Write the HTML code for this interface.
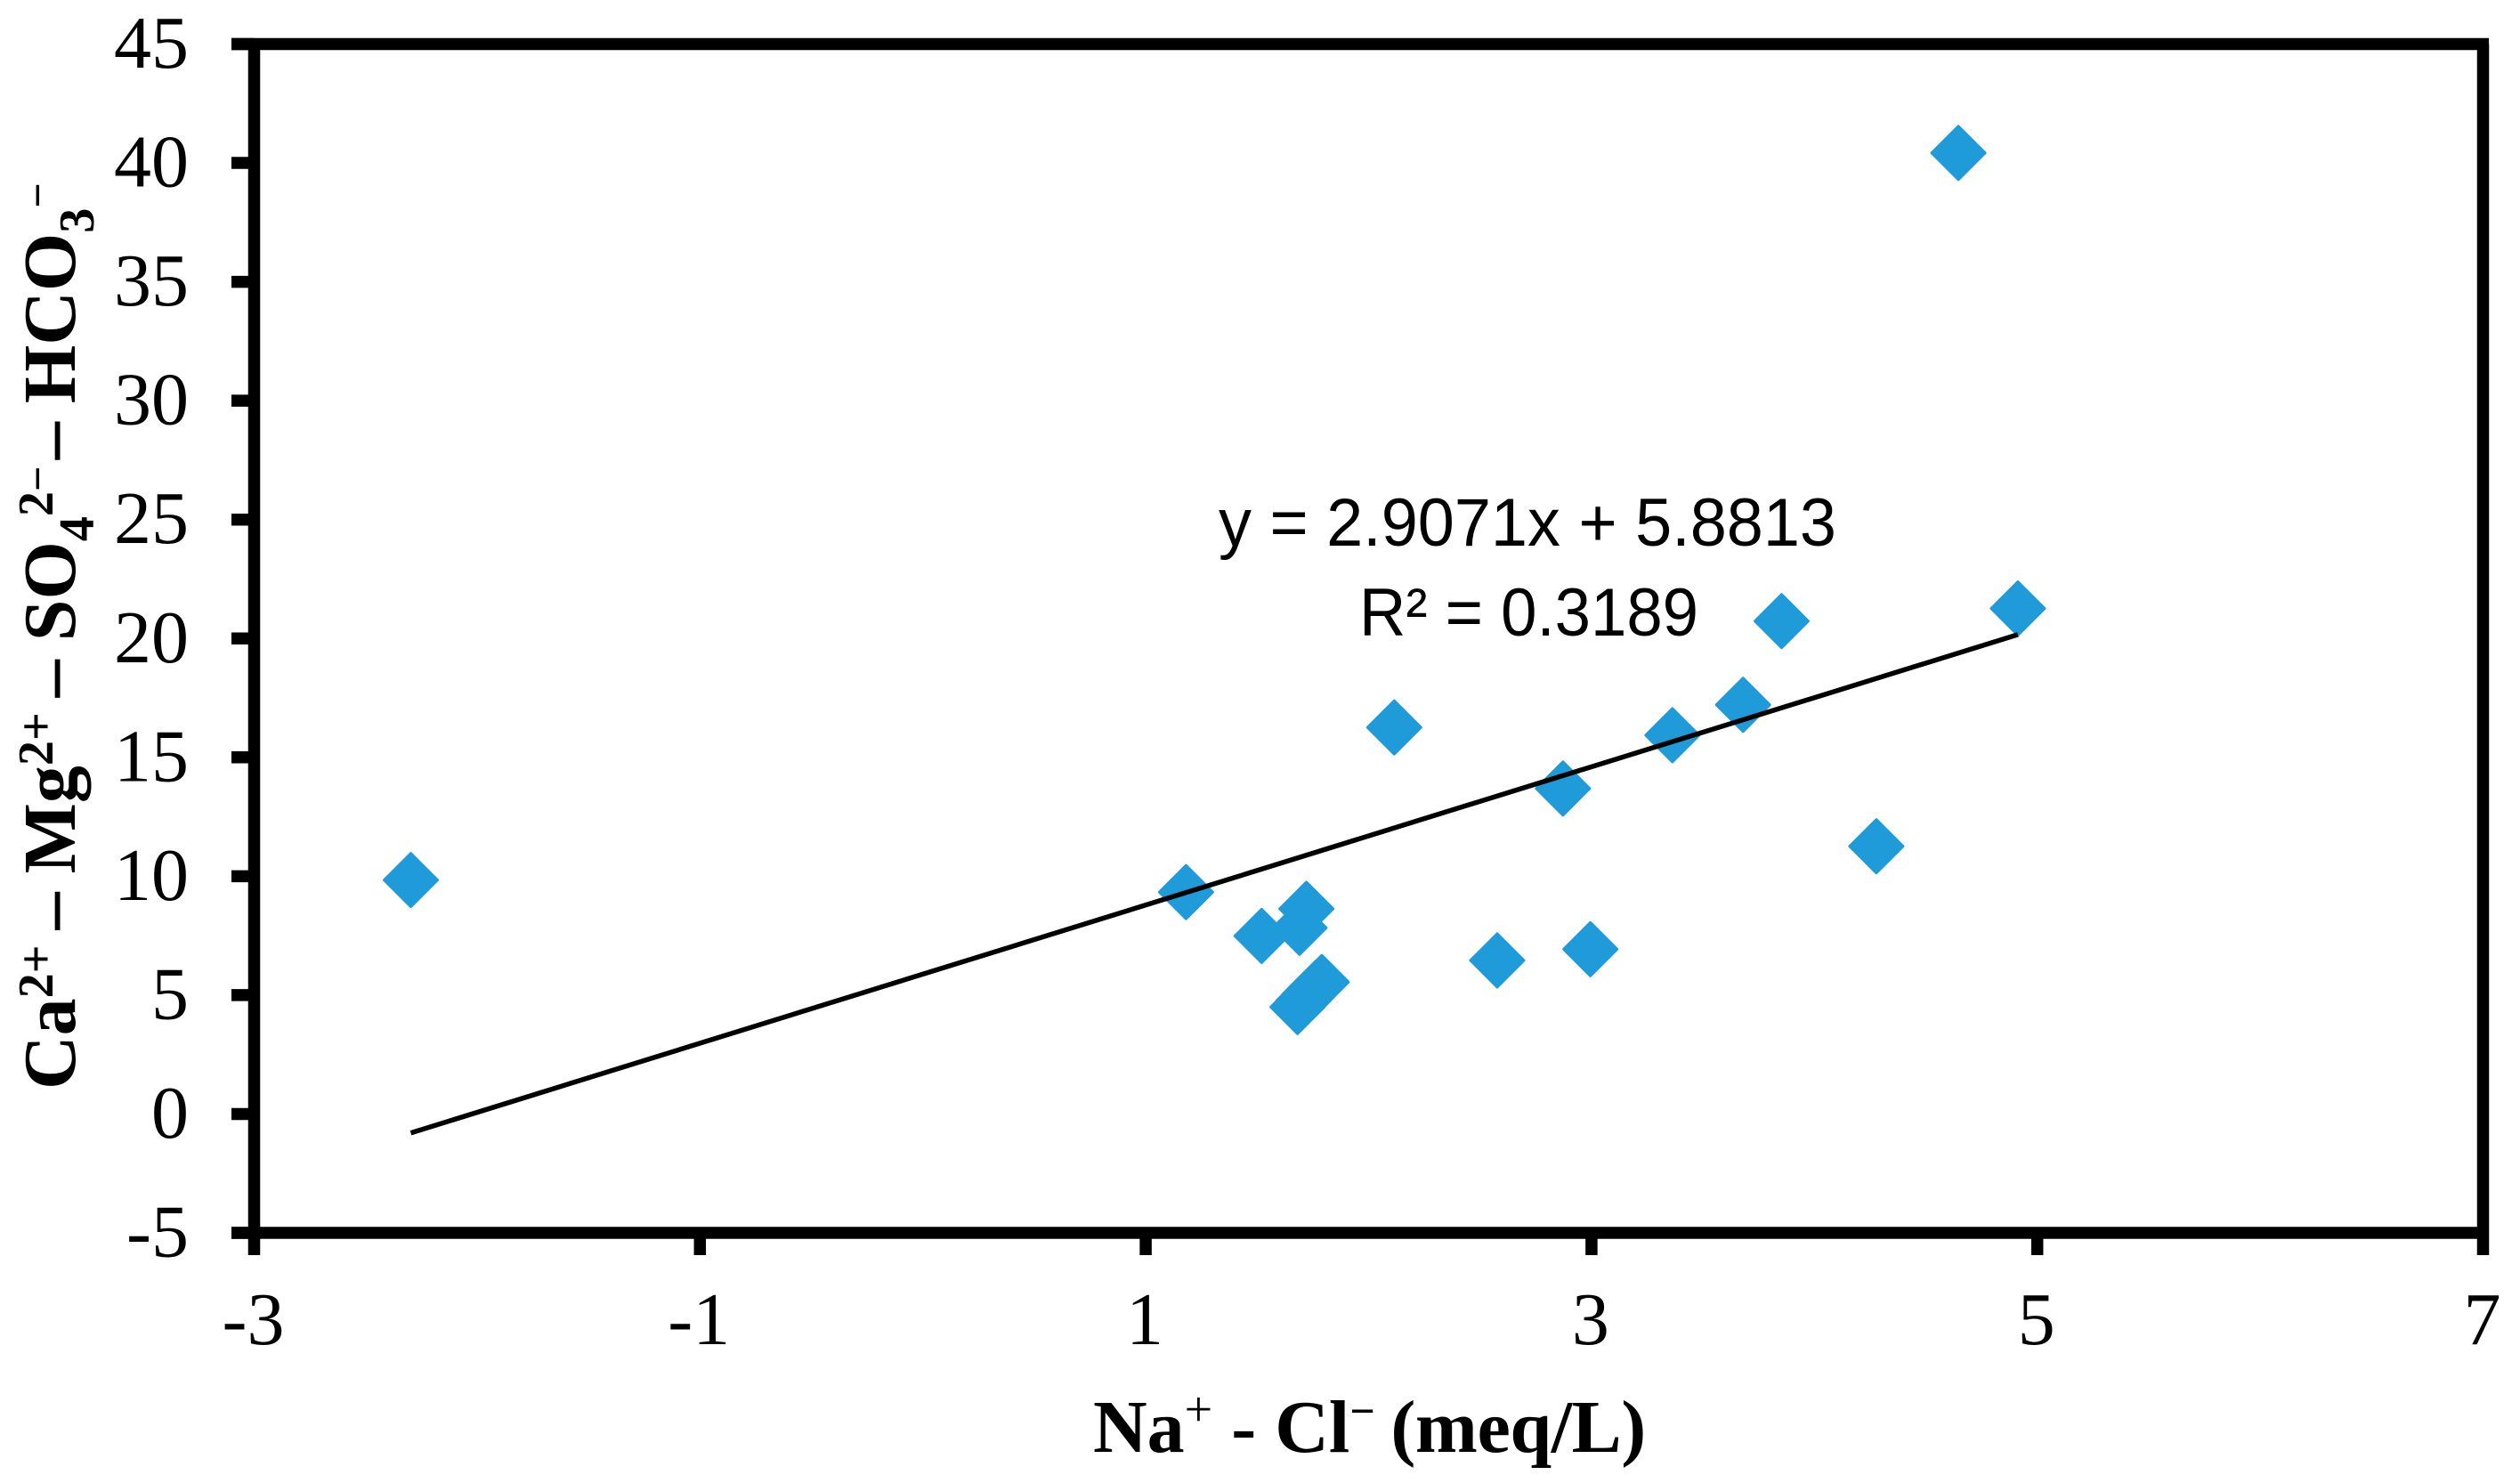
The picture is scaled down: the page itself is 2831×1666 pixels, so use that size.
<!DOCTYPE html>
<html lang="en">
<head>
<meta charset="utf-8">
<title>Scatter chart</title>
<style>
html,body{margin:0;padding:0;background:#fff;}
svg{display:block;}
.tick{font-family:"Liberation Serif",serif;font-size:84px;fill:#000;}
.title{font-family:"Liberation Serif",serif;font-size:84px;font-weight:bold;fill:#000;}
.eq{font-family:"Liberation Sans Narrow","Liberation Sans",sans-serif;font-size:76px;fill:#000;}
</style>
</head>
<body>
<svg id="chart" xmlns="http://www.w3.org/2000/svg" width="2831" height="1666" viewBox="0 0 2831 1666">
  <rect x="0" y="0" width="2831" height="1666" fill="#fff"/>
  <g id="marks"></g>
  <g id="trend"></g>
  <g id="axes"></g>
  <text class="eq" x="1369" y="613" textLength="694" lengthAdjust="spacingAndGlyphs">y = 2.9071x + 5.8813</text>
  <text class="eq" x="1527" y="714" textLength="381" lengthAdjust="spacingAndGlyphs">R² = 0.3189</text>
  <text class="title" x="1228" y="1631">Na<tspan font-size="56" font-weight="normal" dy="-29">+</tspan><tspan dy="29"> - Cl</tspan><tspan font-size="50" dy="-29">−</tspan><tspan dy="29" dx="-3" letter-spacing="-0.4"> (meq/L)</tspan></text>
  <text class="title" transform="translate(84,1224) rotate(-90)" x="0" y="0">Ca<tspan font-size="56" dy="-25">2+</tspan><tspan dy="25" dx="-4"> – Mg</tspan><tspan font-size="56" dy="-25">2+</tspan><tspan dy="25" dx="-4"> – SO</tspan><tspan font-size="56" dy="21">4</tspan><tspan font-size="56" dy="-46">2</tspan><tspan font-size="50">−</tspan><tspan dy="25" dx="-13.5"> – HCO</tspan><tspan font-size="56" dy="21">3</tspan><tspan font-size="50" dy="-46">−</tspan></text>
</svg>
<script>
const xTickLabels = [-3, -1, 1, 3, 5, 7];
const yTickLabels = [-5, 0, 5, 10, 15, 20, 25, 30, 35, 40, 45];
const xValues = [-2.297, 1.181, 1.52, 1.69, 1.721, 1.681, 1.708, 1.734, 1.762, 1.79, 2.577, 2.995, 2.115, 2.872, 3.363, 3.68, 3.853, 4.278, 4.646, 4.913];
const yValues = [9.84, 9.33, 7.49, 7.83, 8.63, 4.5, 4.77, 5.03, 5.3, 5.55, 6.46, 6.93, 16.26, 13.69, 15.93, 17.21, 20.73, 11.26, 40.42, 21.26];
const trendSlope = 2.9071;
const trendIntercept = 5.8813;

const NS = 'http://www.w3.org/2000/svg';
const plotLeft = 285.5, plotRight = 2789.5, plotTop = 49.5, plotBottom = 1385;
const xMin = -3, xMax = 7, yMin = -5, yMax = 45;
function xScale(v) { return plotLeft + (v - xMin) / (xMax - xMin) * (plotRight - plotLeft); }
function yScale(v) { return plotBottom - (v - yMin) / (yMax - yMin) * (plotBottom - plotTop); }
function make(tag, parent, attrs) {
  const el = document.createElementNS(NS, tag);
  for (const k in attrs) el.setAttribute(k, attrs[k]);
  parent.appendChild(el);
  return el;
}
const axes = document.getElementById('axes');
const marks = document.getElementById('marks');
const trend = document.getElementById('trend');

const frame = make('path', axes, { d: 'M260 ' + plotTop + 'H' + (plotRight + 6.5) + 'M' + plotLeft + ' ' + plotTop + 'V' + plotBottom + 'M260 ' + plotBottom + 'H' + plotRight + 'M' + plotRight + ' ' + plotTop + 'V' + plotBottom, stroke: '#000', 'stroke-width': 13.5, fill: 'none' });



yTickLabels.forEach(function (v) {
  const y = yScale(v);
  const tick = make('line', axes, { x1: 260, x2: plotLeft, y1: y, y2: y, stroke: '#000', 'stroke-width': 13.5 });
  
  
  const label = make('text', axes, { x: 212, y: y + 26.5, 'text-anchor': 'end', class: 'tick' });
  label.textContent = v;
  
  
});

xTickLabels.forEach(function (v) {
  const x = xScale(v);
  const tick = make('line', axes, { x1: x, x2: x, y1: plotBottom, y2: 1410, stroke: '#000', 'stroke-width': 13.5 });
  
  
  const label = make('text', axes, { x: x - 1, y: 1510, 'text-anchor': 'middle', class: 'tick' });
  label.textContent = v;
  
  
});

xValues.forEach(function (v, i) {
  const cx = xScale(v), cy = yScale(yValues[i]), r = 30;
  const pt = make('path', marks, {
    d: 'M' + cx + ' ' + (cy - r) + 'L' + (cx + r) + ' ' + cy + 'L' + cx + ' ' + (cy + r) + 'L' + (cx - r) + ' ' + cy + 'Z',
    fill: '#1F9BD9', stroke: '#1F9BD9', 'stroke-width': 3, 'stroke-linejoin': 'round'
  });
  
  
});

const trendStart = Math.min.apply(null, xValues);
const trendEnd = Math.max.apply(null, xValues);
const trendLine = make('line', trend, {
  x1: xScale(trendStart), y1: yScale(trendSlope * trendStart + trendIntercept),
  x2: xScale(trendEnd), y2: yScale(trendSlope * trendEnd + trendIntercept),
  stroke: '#000', 'stroke-width': 5.5
});


</script>
</body>
</html>
